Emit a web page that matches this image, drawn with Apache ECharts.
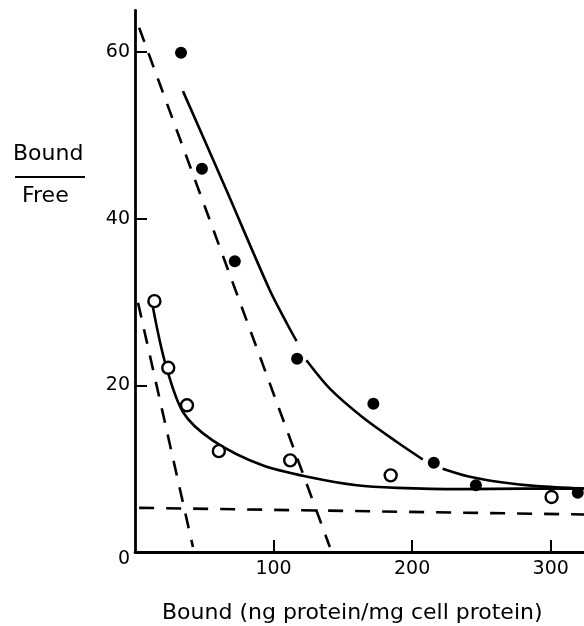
<!DOCTYPE html>
<html>
<head>
<meta charset="utf-8">
<script src="https://cdn.jsdelivr.net/npm/echarts@6/dist/echarts.min.js"></script>
<style>
html,body{margin:0;padding:0;background:#fff;overflow:hidden;}
#chart{width:584px;height:626px;}
</style>
</head>
<body>
<div id="chart"></div>
<script>
// ---- data ----
var filledPoints = [[33.2, 59.9], [48.3, 46.0], [72, 34.9], [117, 23.2], [172, 17.8], [215.6, 10.7], [246, 8.0], [319.5, 7.1]];
var openPoints = [[14, 30.1], [24, 22.1], [37.5, 17.6], [60.5, 12.1], [112, 11.0], [184.5, 9.2], [300.6, 6.6]];
// fitted solid curves (null = gap where the curve passes a point)
var upperCurve = [[34.6, 55.3], [66, 43.4], [97.3, 31.4], [110, 27.3], [116.6, 25.3], null,
                  [123.7, 23.0], [140.6, 19.6], [164, 16.2], [189, 13.2], [207.7, 11.1], null,
                  [222, 10.0], [240, 9.1], [263, 8.4], [290, 7.9], [324, 7.6]];
var lowerCurve = [[13, 29.3], [21.6, 22.8], [34.6, 16.8], [56, 13.4], [92, 10.4], [128, 8.9],
                  [160, 8.0], [189, 7.7], [236, 7.55], [280, 7.6], [324, 7.6]];
// dashed straight lines
var dashedHigh = [[3, 62.9], [140.6, 0.6]];
var dashedLow = [[2.2, 29.9], [41.8, 0.6]];
var dashedFlat = [[3, 5.3], [324, 4.5]];
// ticks and titles
var xTicks = [100, 200, 300];
var yTicks = [20, 40, 60];
var yLabels = [0, 20, 40, 60];
var xTitle = 'Bound (ng protein/mg cell protein)';
var yTitleTop = 'Bound';
var yTitleBottom = 'Free';

var FONT = 'DejaVu Sans';
var chart = echarts.init(document.getElementById('chart'), null, {renderer: 'canvas', width: 584, height: 626});

function dashSeries(d) {
  return {
    type: 'line', data: d, symbol: 'none', silent: true, z: 2,
    lineStyle: {color: '#000', width: 2.6, type: [15, 12], cap: 'butt'}
  };
}

chart.setOption({
  backgroundColor: '#fff',
  animation: false,
  grid: {left: 135, right: 0, top: 10.3, bottom: 74, containLabel: false, outerBoundsMode: 'none'},
  xAxis: {
    type: 'value', min: 0, max: 324,
    axisLine: {show: true, lineStyle: {color: '#000', width: 2.8}},
    axisTick: {show: true, inside: true, length: 12, customValues: xTicks, lineStyle: {color: '#000', width: 2}},
    axisLabel: {customValues: xTicks, color: '#000', fontFamily: FONT, fontSize: 19, margin: 8},
    splitLine: {show: false}
  },
  yAxis: {
    type: 'value', min: 0, max: 65,
    axisLine: {show: true, lineStyle: {color: '#000', width: 2.8}},
    axisTick: {show: true, inside: true, length: 12, customValues: yTicks, lineStyle: {color: '#000', width: 2}},
    axisLabel: {
      customValues: yLabels, color: '#000', fontFamily: FONT, fontSize: 19, margin: 5,
      formatter: function (v) { return v === 0 ? '{z|0}' : String(v); },
      rich: {z: {fontFamily: FONT, fontSize: 19, color: '#000', padding: [14, 0, 0, 0]}}
    },
    splitLine: {show: false}
  },
  graphic: [
    {type: 'text', left: 13, top: 143, style: {text: yTitleTop, fill: '#000', font: '22px "DejaVu Sans"'}},
    {type: 'line', shape: {x1: 15, y1: 177, x2: 85, y2: 177}, style: {stroke: '#000', lineWidth: 2}},
    {type: 'text', left: 22, top: 185, style: {text: yTitleBottom, fill: '#000', font: '22px "DejaVu Sans"'}},
    {type: 'text', left: 162, bottom: 2, style: {text: xTitle, fill: '#000', font: '22px "DejaVu Sans"'}}
  ],
  series: [
    dashSeries(dashedHigh),
    dashSeries(dashedLow),
    dashSeries(dashedFlat),
    {
      type: 'line', data: upperCurve, smooth: 0.3, connectNulls: false, symbol: 'none', z: 3,
      lineStyle: {color: '#000', width: 2.6}
    },
    {
      type: 'line', data: lowerCurve, smooth: 0.3, symbol: 'none', z: 3,
      lineStyle: {color: '#000', width: 2.6}
    },
    {
      type: 'scatter', data: openPoints, symbol: 'circle', symbolSize: 12, z: 5,
      itemStyle: {color: '#fff', borderColor: '#000', borderWidth: 2.4, opacity: 1}
    },
    {
      type: 'scatter', data: filledPoints, symbol: 'circle', symbolSize: 12, z: 5,
      itemStyle: {color: '#000', opacity: 1}
    }
  ]
});
</script>
</body>
</html>
